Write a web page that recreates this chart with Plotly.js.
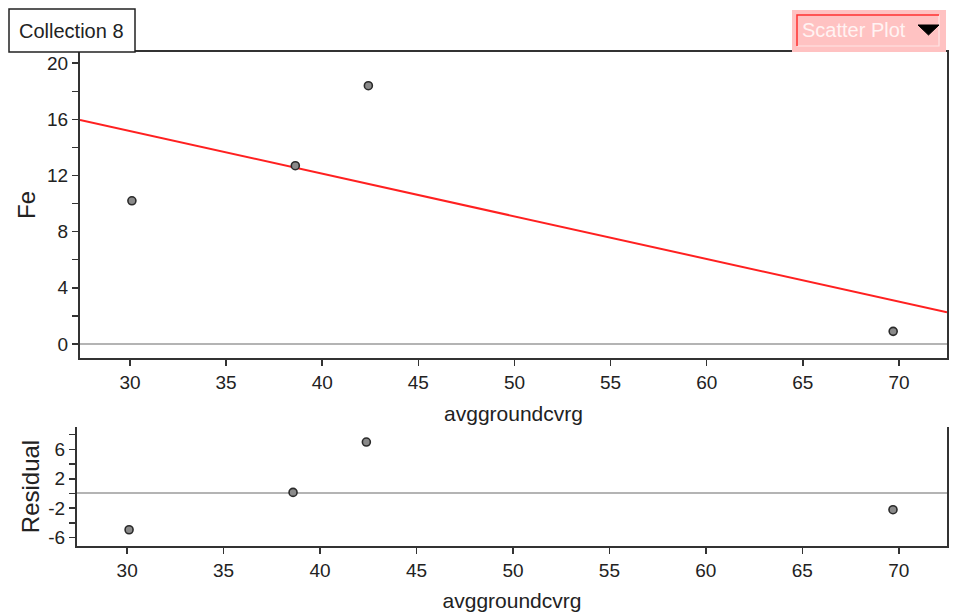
<!DOCTYPE html>
<html>
<head>
<meta charset="utf-8">
<script src="https://cdn.plot.ly/plotly-3.0.1.min.js"></script>
<style>html,body{margin:0;padding:0;background:#fff;}#chart{width:955px;height:612px;}</style>
</head>
<body>
<div id="chart"></div>
<script>
// ---- data ----
const groundCover = [30.1, 38.6, 42.4, 69.7];   // avggroundcvrg
const feValues    = [10.2, 12.7, 18.4, 0.9];    // Fe
const xTickVals   = [30, 35, 40, 45, 50, 55, 60, 65, 70];
const feTickVals  = [0, 4, 8, 12, 16, 20];
const resTickVals = [-6, -2, 2, 6];
const resTickText = ['-6', '-2', '2', '6'];
const xRange      = [27.4, 72.5];

// least-squares line and residuals derived from the data
const n = groundCover.length;
const mx = groundCover.reduce((a, b) => a + b, 0) / n;
const my = feValues.reduce((a, b) => a + b, 0) / n;
let sxy = 0, sxx = 0;
for (let i = 0; i < n; i++) {
  sxy += (groundCover[i] - mx) * (feValues[i] - my);
  sxx += (groundCover[i] - mx) * (groundCover[i] - mx);
}
const slope = sxy / sxx;
const intercept = my - slope * mx;
const fitX = xRange.slice();
const fitY = fitX.map(x => intercept + slope * x);
const residuals = groundCover.map((x, i) => feValues[i] - (intercept + slope * x));

// ---- layout helpers ----
const W = 955, H = 612;
const px = v => v / W;
const py = v => 1 - v / H;

const FONT = 'Liberation Sans, Arial, sans-serif';
const AXC = '#333333';

const marker = { size: 8, color: '#8a8a8a', line: { color: '#2a2a2a', width: 1.6 } };

const traces = [
  { x: fitX, y: fitY, mode: 'lines', line: { color: '#ff2020', width: 2 },
    xaxis: 'x', yaxis: 'y', hoverinfo: 'skip' },
  { x: groundCover, y: feValues, mode: 'markers', marker: marker, xaxis: 'x', yaxis: 'y' },
  { x: groundCover, y: residuals, mode: 'markers', marker: marker, xaxis: 'x2', yaxis: 'y2' }
];

const tickFont = { family: FONT, size: 19, color: '#222' };
const xTitleFont = { family: FONT, size: 21, color: '#222' };
const yTitleFont = { family: FONT, size: 24, color: '#222' };

const baseX = {
  range: xRange, tickmode: 'array', tickvals: xTickVals,
  showgrid: false, zeroline: false, showline: true, linecolor: AXC, linewidth: 2,
  ticks: 'outside', ticklen: 6, tickwidth: 1.5, tickcolor: AXC, tickfont: tickFont,
  fixedrange: true
};

const layout = {
  width: W, height: H,
  margin: { l: 0, r: 0, t: 0, b: 0 },
  paper_bgcolor: '#ffffff', plot_bgcolor: '#ffffff',
  showlegend: false,
  font: { family: FONT, color: '#222' },
  xaxis: Object.assign({}, baseX, {
    domain: [px(80), px(947)], anchor: 'y', mirror: true,
    title: { text: 'avggroundcvrg', font: xTitleFont, standoff: 15 }
  }),
  yaxis: {
    domain: [py(358), py(52)], anchor: 'x', range: [-1, 20.8],
    tickmode: 'array', tickvals: feTickVals,
    minor: { tickmode: 'array', tickvals: [2, 6, 10, 14, 18], ticks: 'outside', ticklen: 6, tickwidth: 1.5, tickcolor: AXC },
    showgrid: false, zeroline: true, zerolinecolor: '#b4b4b4', zerolinewidth: 2,
    showline: true, mirror: true, linecolor: AXC, linewidth: 2,
    ticks: 'outside', ticklen: 6, tickwidth: 1.5, tickcolor: AXC, tickfont: tickFont,
    title: { text: 'Fe', font: yTitleFont, standoff: 5 }, fixedrange: true
  },
  xaxis2: Object.assign({}, baseX, {
    domain: [px(77), px(947)], anchor: 'y2', mirror: false,
    title: { text: 'avggroundcvrg', font: xTitleFont, standoff: 14 }
  }),
  yaxis2: {
    domain: [py(546), py(427)], anchor: 'x2', range: [-7.15, 9.05],
    tickmode: 'array', tickvals: resTickVals, ticktext: resTickText,
    minor: { tickmode: 'array', tickvals: [-4, 0, 4, 8], ticks: 'outside', ticklen: 6, tickwidth: 1.5, tickcolor: AXC },
    showgrid: false, zeroline: true, zerolinecolor: '#b4b4b4', zerolinewidth: 2,
    showline: true, mirror: true, linecolor: AXC, linewidth: 2,
    ticks: 'outside', ticklen: 6, tickwidth: 1.5, tickcolor: AXC, tickfont: tickFont,
    title: { text: 'Residual', font: yTitleFont, standoff: 2 }, fixedrange: true
  },
  shapes: [
    // "Collection 8" tab
    { type: 'rect', xref: 'paper', yref: 'paper', x0: px(9), x1: px(135), y0: py(52), y1: py(9),
      line: { color: '#222', width: 1.5 }, fillcolor: '#ffffff' },
    // "Scatter Plot" menu button
    { type: 'rect', xref: 'paper', yref: 'paper', x0: px(792), x1: px(946), y0: py(52), y1: py(10),
      line: { width: 0 }, fillcolor: '#ffc2c2' },
    { type: 'path', xref: 'paper', yref: 'paper',
      path: `M ${px(939)} ${py(15)} L ${px(939)} ${py(46)} L ${px(797)} ${py(46)}`,
      line: { color: '#ffe4e4', width: 1.2 } },
    { type: 'path', xref: 'paper', yref: 'paper',
      path: `M ${px(797)} ${py(46)} L ${px(797)} ${py(15)} L ${px(939)} ${py(15)}`,
      line: { color: '#ff3030', width: 1.5 } },
    { type: 'path', xref: 'paper', yref: 'paper',
      path: `M ${px(918)} ${py(25)} L ${px(939)} ${py(25)} L ${px(928.5)} ${py(35)} Z`,
      line: { color: '#000', width: 1 }, fillcolor: '#000' }
  ],
  annotations: [
    { text: 'Collection 8', xref: 'paper', yref: 'paper', x: px(71), y: py(31),
      xanchor: 'center', yanchor: 'middle', showarrow: false,
      font: { family: FONT, size: 20, color: '#222' } },
    { text: 'Scatter Plot', xref: 'paper', yref: 'paper', x: px(854), y: py(30),
      xanchor: 'center', yanchor: 'middle', showarrow: false,
      font: { family: FONT, size: 20, color: '#fff3f3' } }
  ]
};

Plotly.newPlot('chart', traces, layout, { staticPlot: true, displayModeBar: false });
</script>
</body>
</html>
